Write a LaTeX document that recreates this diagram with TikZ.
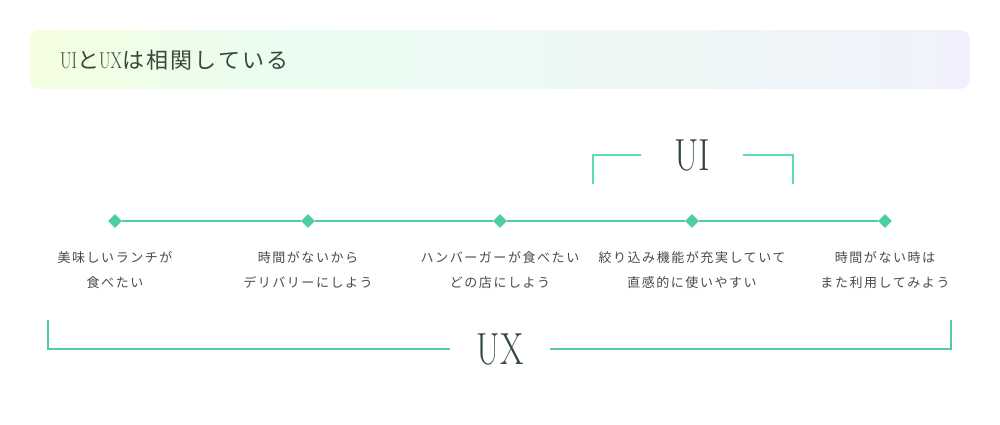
\documentclass[tikz,border=0pt]{standalone}
\usepackage{fontspec}
\newfontfamily\jp[LetterSpace=12]{Noto Sans CJK JP}
\newfontfamily\jptitle[LetterSpace=10]{Noto Sans CJK JP}
\usetikzlibrary{shapes.geometric}
\definecolor{mint}{HTML}{4CD0A2}
\definecolor{mintline}{HTML}{4ECFA2}
\definecolor{bracket}{HTML}{5CDBAE}
\definecolor{uxline}{HTML}{52CCA1}
\definecolor{darkg}{HTML}{34493A}
\definecolor{labelgray}{HTML}{4A4A4A}
\definecolor{gA}{HTML}{F4FEE0}
\definecolor{gB}{HTML}{E9FDF1}
\definecolor{gC}{HTML}{EEF6F6}
\definecolor{gD}{HTML}{F0F1FD}
\pgfdeclarehorizontalshading{hdr}{100bp}{%
  color(0bp)=(gA); color(25bp)=(gA); color(39bp)=(gB); color(60bp)=(gC); color(75bp)=(gD); color(100bp)=(gD)}
\tikzset{
  dia/.style={diamond,fill=mint,draw=none,minimum width=14,minimum height=14,inner sep=0},
  lbl/.style={align=center,text=labelgray,font=\jp\fontsize{13}{25}\selectfont,inner sep=0},
  brk/.style={draw=bracket,line width=1.2},
  big/.style={text=darkg,inner sep=0,font=\fontsize{45}{45}\selectfont}
}
\begin{document}
\begin{tikzpicture}[x=1pt,y=-1pt]
\useasboundingbox (0,0) rectangle (1000,424);
\fill[white] (0,0) rectangle (1000,424);
% header
\shade[shading=hdr,rounded corners=10] (30,30) rectangle (970,89);
\node[anchor=west,text=darkg,inner sep=0,font=\jptitle\fontsize{22}{24}\selectfont] (title) at (60,60)
  {\scalebox{0.72}[1]{\rmfamily\fontsize{23}{24}\selectfont UI}と\scalebox{0.72}[1]{\rmfamily\fontsize{23}{24}\selectfont UX}は相関している};
% timeline
\node[dia] (d1) at (115,221) {};
\node[dia] (d2) at (308,221) {};
\node[dia] (d3) at (500,221) {};
\node[dia] (d4) at (692,221) {};
\node[dia] (d5) at (885,221) {};
\draw[mintline,line width=1.2] (d1) -- (d2) -- (d3) -- (d4) -- (d5);
% labels
\node[lbl] (l1) at (115,270) {美味しいランチが\\食べたい};
\node[lbl] (l2) at (308,270) {時間がないから\\デリバリーにしよう};
\node[lbl] (l3) at (500,270) {ハンバーガーが食べたい\\どの店にしよう};
\node[lbl] (l4) at (692,270) {絞り込み機能が充実していて\\直感的に使いやすい};
\node[lbl] (l5) at (885,270) {時間がない時は\\また利用してみよう};
% UI bracket
\node[big] (ui) at (692,155) {\scalebox{0.78}[1]{UI}};
\coordinate (uia) at (641,155);
\coordinate (uib) at (593,155);
\coordinate (uic) at (593,184);
\coordinate (uid) at (743,155);
\coordinate (uie) at (793,155);
\coordinate (uif) at (793,184);
\draw[brk] (uia) -- (uib) -- (uic);
\draw[brk] (uid) -- (uie) -- (uif);
% UX bracket
\node[big] (ux) at (500,349) {\scalebox{0.75}[1]{UX}};
\coordinate (uxa) at (450,349);
\coordinate (uxb) at (48,349);
\coordinate (uxc) at (48,320);
\coordinate (uxd) at (550,349);
\coordinate (uxe) at (951,349);
\coordinate (uxf) at (951,320);
\draw[brk,draw=uxline] (uxa) -- (uxb) -- (uxc);
\draw[brk,draw=uxline] (uxd) -- (uxe) -- (uxf);
\end{tikzpicture}
\end{document}
